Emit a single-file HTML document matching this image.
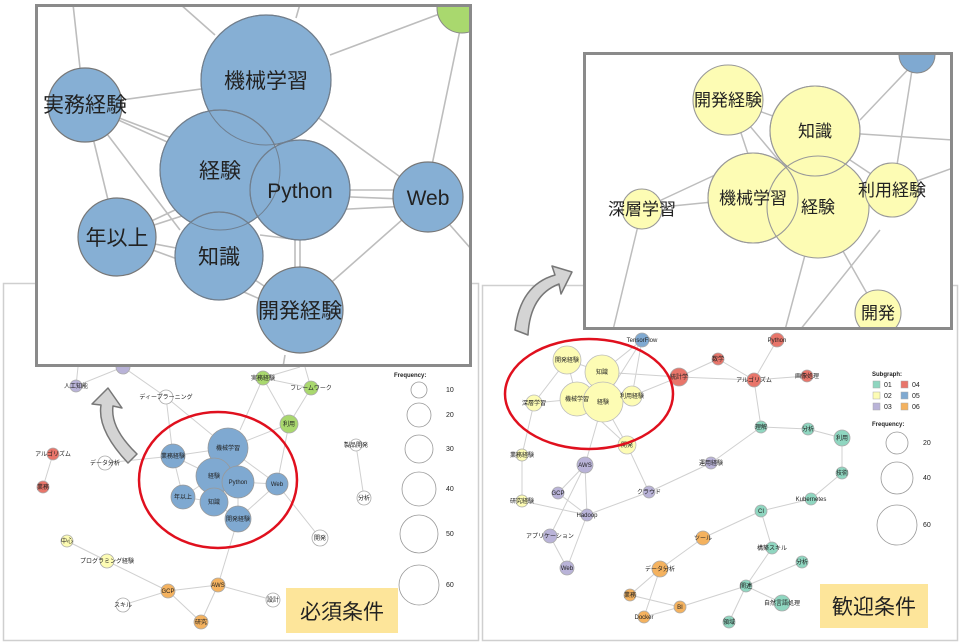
<!DOCTYPE html>
<html><head><meta charset="utf-8"><style>
html,body{margin:0;padding:0;background:#fff}
svg{display:block}
text{font-family:"Liberation Sans","Noto Sans CJK JP",sans-serif;fill:#222}
</style></head><body>
<svg width="963" height="643" viewBox="0 0 963 643" xmlns="http://www.w3.org/2000/svg">
<rect width="963" height="643" fill="#fff"/>
<rect x="3.5" y="283.5" width="475" height="357" fill="#fff" stroke="#cfcfcf" stroke-width="1.5"/>
<rect x="482.5" y="285.5" width="475" height="355" fill="#fff" stroke="#cfcfcf" stroke-width="1.5"/>

<g stroke="#d0d0d0" stroke-width="1" fill="none">
<path d="M76 386 L123 367 M123 367 L166 397 M76 386 L78 367 M166 397 L173 456 M166 397 L228 448 M263 378 L311 388 M263 378 L289 424 M311 388 L289 424 M311 388 L305 367 M263 378 L240 430 M263 378 L300 367 M289 424 L277 484 M53 454 L43 487 M105 463 L173 456 M173 456 L228 448 M173 456 L214 476 M173 456 L183 497 M228 448 L277 484 M228 448 L289 424 M214 476 L238 482 M238 482 L277 484 M183 497 L214 476 M183 497 L214 502 M214 502 L238 519 M238 482 L238 519 M277 484 L238 519 M277 484 L320 538 M356 445 L364 498 M67 541 L107 561 M107 561 L168 591 M168 591 L218 585 M238 519 L218 585 M218 585 L273 600 M168 591 L123 605 M168 591 L201 622 M218 585 L201 622"/>
</g>
<g stroke="#aaa" stroke-width="0.8">
<circle cx="123" cy="367" r="7" fill="#b9b3d8"/>
<circle cx="76" cy="386" r="6" fill="#b9b3d8"/>
<circle cx="263" cy="378" r="7" fill="#a9d86e"/>
<circle cx="311" cy="388" r="7" fill="#a9d86e"/>
<circle cx="289" cy="424" r="9" fill="#a9d86e"/>
<circle cx="166" cy="397" r="7" fill="#fff"/>
<circle cx="53" cy="454" r="6" fill="#e8756a"/>
<circle cx="43" cy="487" r="6" fill="#e8756a"/>
<circle cx="105" cy="463" r="7" fill="#fff"/>
<circle cx="356" cy="445" r="6" fill="#fff"/>
<circle cx="364" cy="498" r="7" fill="#fff"/>
<circle cx="320" cy="538" r="8" fill="#fff"/>
<circle cx="67" cy="541" r="6" fill="#fdfcb4"/>
<circle cx="107" cy="561" r="7" fill="#fdfcb4"/>
<circle cx="168" cy="591" r="7" fill="#f4b25f"/>
<circle cx="218" cy="585" r="7" fill="#f4b25f"/>
<circle cx="201" cy="622" r="7" fill="#f4b25f"/>
<circle cx="123" cy="605" r="7" fill="#fff"/>
<circle cx="273" cy="600" r="7" fill="#fff"/>
</g>
<g stroke="#999" stroke-width="0.8" fill="#7fa9d1">
<circle cx="173" cy="456" r="12"/>
<circle cx="228" cy="448" r="20"/>
<circle cx="214" cy="476" r="18"/>
<circle cx="238" cy="482" r="16"/>
<circle cx="277" cy="484" r="11"/>
<circle cx="183" cy="497" r="12"/>
<circle cx="214" cy="502" r="14"/>
<circle cx="238" cy="519" r="13"/>
</g>
<g font-size="6" text-anchor="middle">
<text x="76" y="388">人工知能</text>
<text x="263" y="380">実務経験</text>
<text x="311" y="390">フレームワーク</text>
<text x="289" y="426">利用</text>
<text x="166" y="399">ディープラーニング</text>
<text x="53" y="456">アルゴリズム</text>
<text x="43" y="489">業務</text>
<text x="105" y="465">データ分析</text>
<text x="356" y="447">製品開発</text>
<text x="364" y="500">分析</text>
<text x="320" y="540">開発</text>
<text x="67" y="543">中心</text>
<text x="107" y="563">プログラミング経験</text>
<text x="168" y="593">GCP</text>
<text x="218" y="587">AWS</text>
<text x="201" y="624">研究</text>
<text x="123" y="607">スキル</text>
<text x="273" y="602">設計</text>
<text x="173" y="458">業務経験</text>
<text x="228" y="450">機械学習</text>
<text x="214" y="478">経験</text>
<text x="238" y="484">Python</text>
<text x="277" y="486">Web</text>
<text x="183" y="499">年以上</text>
<text x="214" y="504">知識</text>
<text x="238" y="521">開発経験</text>
</g>
<ellipse cx="218" cy="480" rx="79" ry="68" fill="none" stroke="#e0101e" stroke-width="2.5"/>
<text x="394" y="377" font-size="6" font-weight="bold">Frequency:</text>
<g fill="none" stroke="#999" stroke-width="0.8">
<circle cx="419" cy="390" r="8"/><circle cx="419" cy="415" r="12"/><circle cx="419" cy="449" r="14"/>
<circle cx="419" cy="489" r="17"/><circle cx="419" cy="534" r="19"/><circle cx="419" cy="585" r="20"/>
</g>
<g font-size="7" fill="#555">
<text x="446" y="392">10</text><text x="446" y="417">20</text><text x="446" y="451">30</text>
<text x="446" y="491">40</text><text x="446" y="536">50</text><text x="446" y="587">60</text>
</g>
<rect x="286" y="588" width="112" height="45" fill="#fde59a"/>
<text x="342" y="619" font-size="21" text-anchor="middle" fill="#111">必須条件</text>

<g stroke="#d0d0d0" stroke-width="1" fill="none">
<path d="M642 340 L602 372 M642 340 L632 396 M642 340 L603 402 M777 340 L754 380 M718 359 L679 377 M718 359 L754 380 M679 377 L754 380 M754 380 L807 376 M602 372 L679 377 M632 396 L679 377 M567 360 L602 372 M567 360 L577 399 M534 403 L577 399 M534 403 L567 360 M603 402 L627 445 M577 399 L627 445 M603 402 L585 465 M534 403 L522 455 M522 455 L522 501 M522 501 L587 515 M585 465 L558 493 M585 465 L587 515 M585 465 L550 536 M558 493 L587 515 M587 515 L567 568 M550 536 L567 568 M587 515 L649 492 M649 492 L711 463 M711 463 L761 427 M627 445 L649 492 M754 380 L761 427 M761 427 L808 429 M808 429 L842 438 M842 438 L842 473 M842 473 L811 499 M811 499 L761 511 M761 511 L703 538 M761 511 L772 548 M772 548 L746 586 M746 586 L802 562 M746 586 L782 603 M746 586 L729 622 M703 538 L660 569 M660 569 L630 595 M660 569 L644 617 M630 595 L680 607 M644 617 L680 607 M680 607 L746 586"/>
</g>
<g stroke="#aaa" stroke-width="0.8">
<circle cx="642" cy="340" r="7" fill="#7fa9d1"/>
<circle cx="777" cy="340" r="7" fill="#e8756a"/>
<circle cx="718" cy="359" r="6" fill="#e8756a"/>
<circle cx="679" cy="377" r="9" fill="#e8756a"/>
<circle cx="754" cy="380" r="7" fill="#e8756a"/>
<circle cx="807" cy="376" r="6" fill="#e8756a"/>
<circle cx="522" cy="455" r="6" fill="#fdfcb4"/>
<circle cx="522" cy="501" r="6" fill="#fdfcb4"/>
<circle cx="585" cy="465" r="8" fill="#b9b3d8"/>
<circle cx="558" cy="493" r="6" fill="#b9b3d8"/>
<circle cx="587" cy="515" r="6" fill="#b9b3d8"/>
<circle cx="550" cy="536" r="7" fill="#b9b3d8"/>
<circle cx="567" cy="568" r="7" fill="#b9b3d8"/>
<circle cx="649" cy="492" r="6" fill="#b9b3d8"/>
<circle cx="711" cy="463" r="6" fill="#b9b3d8"/>
<circle cx="761" cy="427" r="6" fill="#8fd6c0"/>
<circle cx="808" cy="429" r="6" fill="#8fd6c0"/>
<circle cx="842" cy="438" r="8" fill="#8fd6c0"/>
<circle cx="842" cy="473" r="6" fill="#8fd6c0"/>
<circle cx="811" cy="499" r="6" fill="#8fd6c0"/>
<circle cx="761" cy="511" r="6" fill="#8fd6c0"/>
<circle cx="772" cy="548" r="6" fill="#8fd6c0"/>
<circle cx="802" cy="562" r="6" fill="#8fd6c0"/>
<circle cx="746" cy="586" r="6" fill="#8fd6c0"/>
<circle cx="782" cy="603" r="8" fill="#8fd6c0"/>
<circle cx="729" cy="622" r="6" fill="#8fd6c0"/>
<circle cx="703" cy="538" r="7" fill="#f4b25f"/>
<circle cx="660" cy="569" r="8" fill="#f4b25f"/>
<circle cx="630" cy="595" r="6" fill="#f4b25f"/>
<circle cx="680" cy="607" r="6" fill="#f4b25f"/>
<circle cx="644" cy="617" r="6" fill="#f4b25f"/>
<g fill="#fdfcb4" stroke="#bbb">
<circle cx="567" cy="360" r="14"/>
<circle cx="602" cy="372" r="17"/>
<circle cx="534" cy="403" r="8"/>
<circle cx="577" cy="399" r="17"/>
<circle cx="603" cy="402" r="20"/>
<circle cx="632" cy="396" r="10"/>
<circle cx="627" cy="445" r="9"/>
</g>
</g>
<g font-size="6" text-anchor="middle">
<text x="642" y="342">TensorFlow</text>
<text x="777" y="342">Python</text>
<text x="718" y="361">数学</text>
<text x="679" y="379">統計学</text>
<text x="754" y="382">アルゴリズム</text>
<text x="807" y="378">画像処理</text>
<text x="567" y="362">開発経験</text>
<text x="602" y="374">知識</text>
<text x="534" y="405">深層学習</text>
<text x="577" y="401">機械学習</text>
<text x="603" y="404">経験</text>
<text x="632" y="398">利用経験</text>
<text x="627" y="447">開発</text>
<text x="522" y="457">業務経験</text>
<text x="522" y="503">研究経験</text>
<text x="585" y="467">AWS</text>
<text x="558" y="495">GCP</text>
<text x="587" y="517">Hadoop</text>
<text x="550" y="538">アプリケーション</text>
<text x="567" y="570">Web</text>
<text x="649" y="494">クラウド</text>
<text x="711" y="465">運用経験</text>
<text x="761" y="429">理解</text>
<text x="808" y="431">分析</text>
<text x="842" y="440">利用</text>
<text x="842" y="475">技術</text>
<text x="811" y="501">Kubernetes</text>
<text x="761" y="513">CI</text>
<text x="772" y="550">構築スキル</text>
<text x="802" y="564">分析</text>
<text x="746" y="588">関連</text>
<text x="782" y="605">自然言語処理</text>
<text x="729" y="624">領域</text>
<text x="703" y="540">ツール</text>
<text x="660" y="571">データ分析</text>
<text x="630" y="597">業務</text>
<text x="680" y="609">BI</text>
<text x="644" y="619">Docker</text>
</g>
<ellipse cx="589" cy="394" rx="84" ry="55" fill="none" stroke="#e0101e" stroke-width="2.5"/>
<text x="872" y="376" font-size="6" font-weight="bold">Subgraph:</text>
<g stroke="#aaa" stroke-width="0.5">
<rect x="873" y="381" width="7" height="7" fill="#8fd6c0"/>
<rect x="873" y="392" width="7" height="7" fill="#fdfcb4"/>
<rect x="873" y="403" width="7" height="7" fill="#b9b3d8"/>
<rect x="901" y="381" width="7" height="7" fill="#e8756a"/>
<rect x="901" y="392" width="7" height="7" fill="#7fa9d1"/>
<rect x="901" y="403" width="7" height="7" fill="#f4b25f"/>
</g>
<g font-size="7" fill="#555">
<text x="884" y="387">01</text><text x="884" y="398">02</text><text x="884" y="409">03</text>
<text x="912" y="387">04</text><text x="912" y="398">05</text><text x="912" y="409">06</text>
</g>
<text x="872" y="426" font-size="6" font-weight="bold">Frequency:</text>
<g fill="none" stroke="#999" stroke-width="0.8">
<circle cx="897" cy="443" r="11"/><circle cx="897" cy="478" r="16"/><circle cx="897" cy="525" r="20"/>
</g>
<g font-size="7" fill="#555"><text x="923" y="445">20</text><text x="923" y="480">40</text><text x="923" y="527">60</text></g>
<rect x="820" y="584" width="108" height="44" fill="#fde59a"/>
<text x="874" y="614" font-size="21" text-anchor="middle" fill="#111">歓迎条件</text>

<path d="M108 388 L92 404 L101 405 Q97 430 128 463 L137 454 Q110 428 113 406 L122 408 Z" fill="#d4d4d4" stroke="#777" stroke-width="1.5" stroke-linejoin="round"/>
<path d="M572 272 L552 266 L555 275 Q520 285 515 330 L528 335 Q530 295 559 284 L561 294 Z" fill="#d4d4d4" stroke="#777" stroke-width="1.5" stroke-linejoin="round"/>

<svg x="35" y="4" width="437" height="363" viewBox="35 4 437 363">
<rect x="35" y="4" width="437" height="363" fill="#fff"/>
<g stroke="#bdbdbd" stroke-width="1.6" fill="none">
<path d="M73 4 L80 68 M180 4 L215 35 M300 4 L296 18 M330 55 L450 10 M460 30 L432 165 M450 225 L472 250 M85 105 L266 80 M85 105 L190 145 M85 105 L185 150 M85 105 L117 237 M85 105 L180 230 M117 237 L175 210 M117 237 L185 215 M117 237 L219 256 M117 237 L180 260 M266 80 L428 197 M300 190 L428 190 M300 195 L428 200 M330 210 L428 205 M219 256 L300 310 M205 275 L285 310 M300 190 L300 310 M295 200 L295 300 M260 235 L300 240 M428 197 L300 310 M285 355 L283 367"/>
</g>
<circle cx="462" cy="8" r="25" fill="#a9d86e" stroke="#888" stroke-width="1"/>
<g fill="#86afd4" stroke="#777" stroke-width="1.2">
<circle cx="266" cy="80" r="65"/>
<circle cx="85" cy="105" r="37"/>
<circle cx="220" cy="170" r="60"/>
<circle cx="300" cy="190" r="50"/>
<circle cx="428" cy="197" r="35"/>
<circle cx="117" cy="237" r="39"/>
<circle cx="219" cy="256" r="44"/>
<circle cx="300" cy="310" r="43"/>
</g>
<g fill="none" stroke="#6f7f90" stroke-width="1">
<circle cx="266" cy="80" r="65"/>
<circle cx="220" cy="170" r="60"/>
<circle cx="300" cy="190" r="50"/>
<circle cx="219" cy="256" r="44"/>
</g>
<g font-size="21" text-anchor="middle">
<text x="266" y="88">機械学習</text>
<text x="85" y="112">実務経験</text>
<text x="220" y="178">経験</text>
<text x="300" y="198">Python</text>
<text x="428" y="205">Web</text>
<text x="117" y="245">年以上</text>
<text x="219" y="264">知識</text>
<text x="300" y="318">開発経験</text>
</g>
</svg>
<rect x="36.5" y="5.5" width="434" height="360" fill="none" stroke="#8a8a8a" stroke-width="3"/>

<svg x="583" y="52" width="370" height="278" viewBox="583 52 370 278">
<rect x="583" y="52" width="370" height="278" fill="#fff"/>
<g stroke="#bdbdbd" stroke-width="1.5" fill="none">
<path d="M728 100 L815 131 M728 100 L818 207 M740 130 L750 160 M642 209 L753 198 M642 209 L715 175 M642 209 L613 330 M815 131 L953 140 M860 120 L917 60 M897 165 L912 70 M892 190 L953 168 M818 207 L878 313 M805 255 L785 330 M880 230 L800 330 M850 160 L880 180"/>
</g>
<circle cx="917" cy="55" r="18" fill="#7fa9d1" stroke="#888"/>
<g fill="#fdfcb4" stroke="#999" stroke-width="1.1">
<circle cx="728" cy="100" r="35"/>
<circle cx="815" cy="131" r="45"/>
<circle cx="753" cy="198" r="45"/>
<circle cx="818" cy="207" r="51"/>
<circle cx="892" cy="190" r="27"/>
<circle cx="642" cy="209" r="20"/>
<circle cx="878" cy="313" r="23"/>
</g>
<g fill="none" stroke="#999" stroke-width="1.1">
<circle cx="753" cy="198" r="45"/>
<circle cx="815" cy="131" r="45"/>
</g>
<g font-size="17" text-anchor="middle">
<text x="728" y="106">開発経験</text>
<text x="815" y="137">知識</text>
<text x="753" y="204">機械学習</text>
<text x="818" y="213">経験</text>
<text x="892" y="196">利用経験</text>
<text x="642" y="215">深層学習</text>
<text x="878" y="319">開発</text>
</g>
</svg>
<rect x="584.5" y="53.5" width="367" height="275" fill="none" stroke="#8a8a8a" stroke-width="3"/>
</svg>
</body></html>
